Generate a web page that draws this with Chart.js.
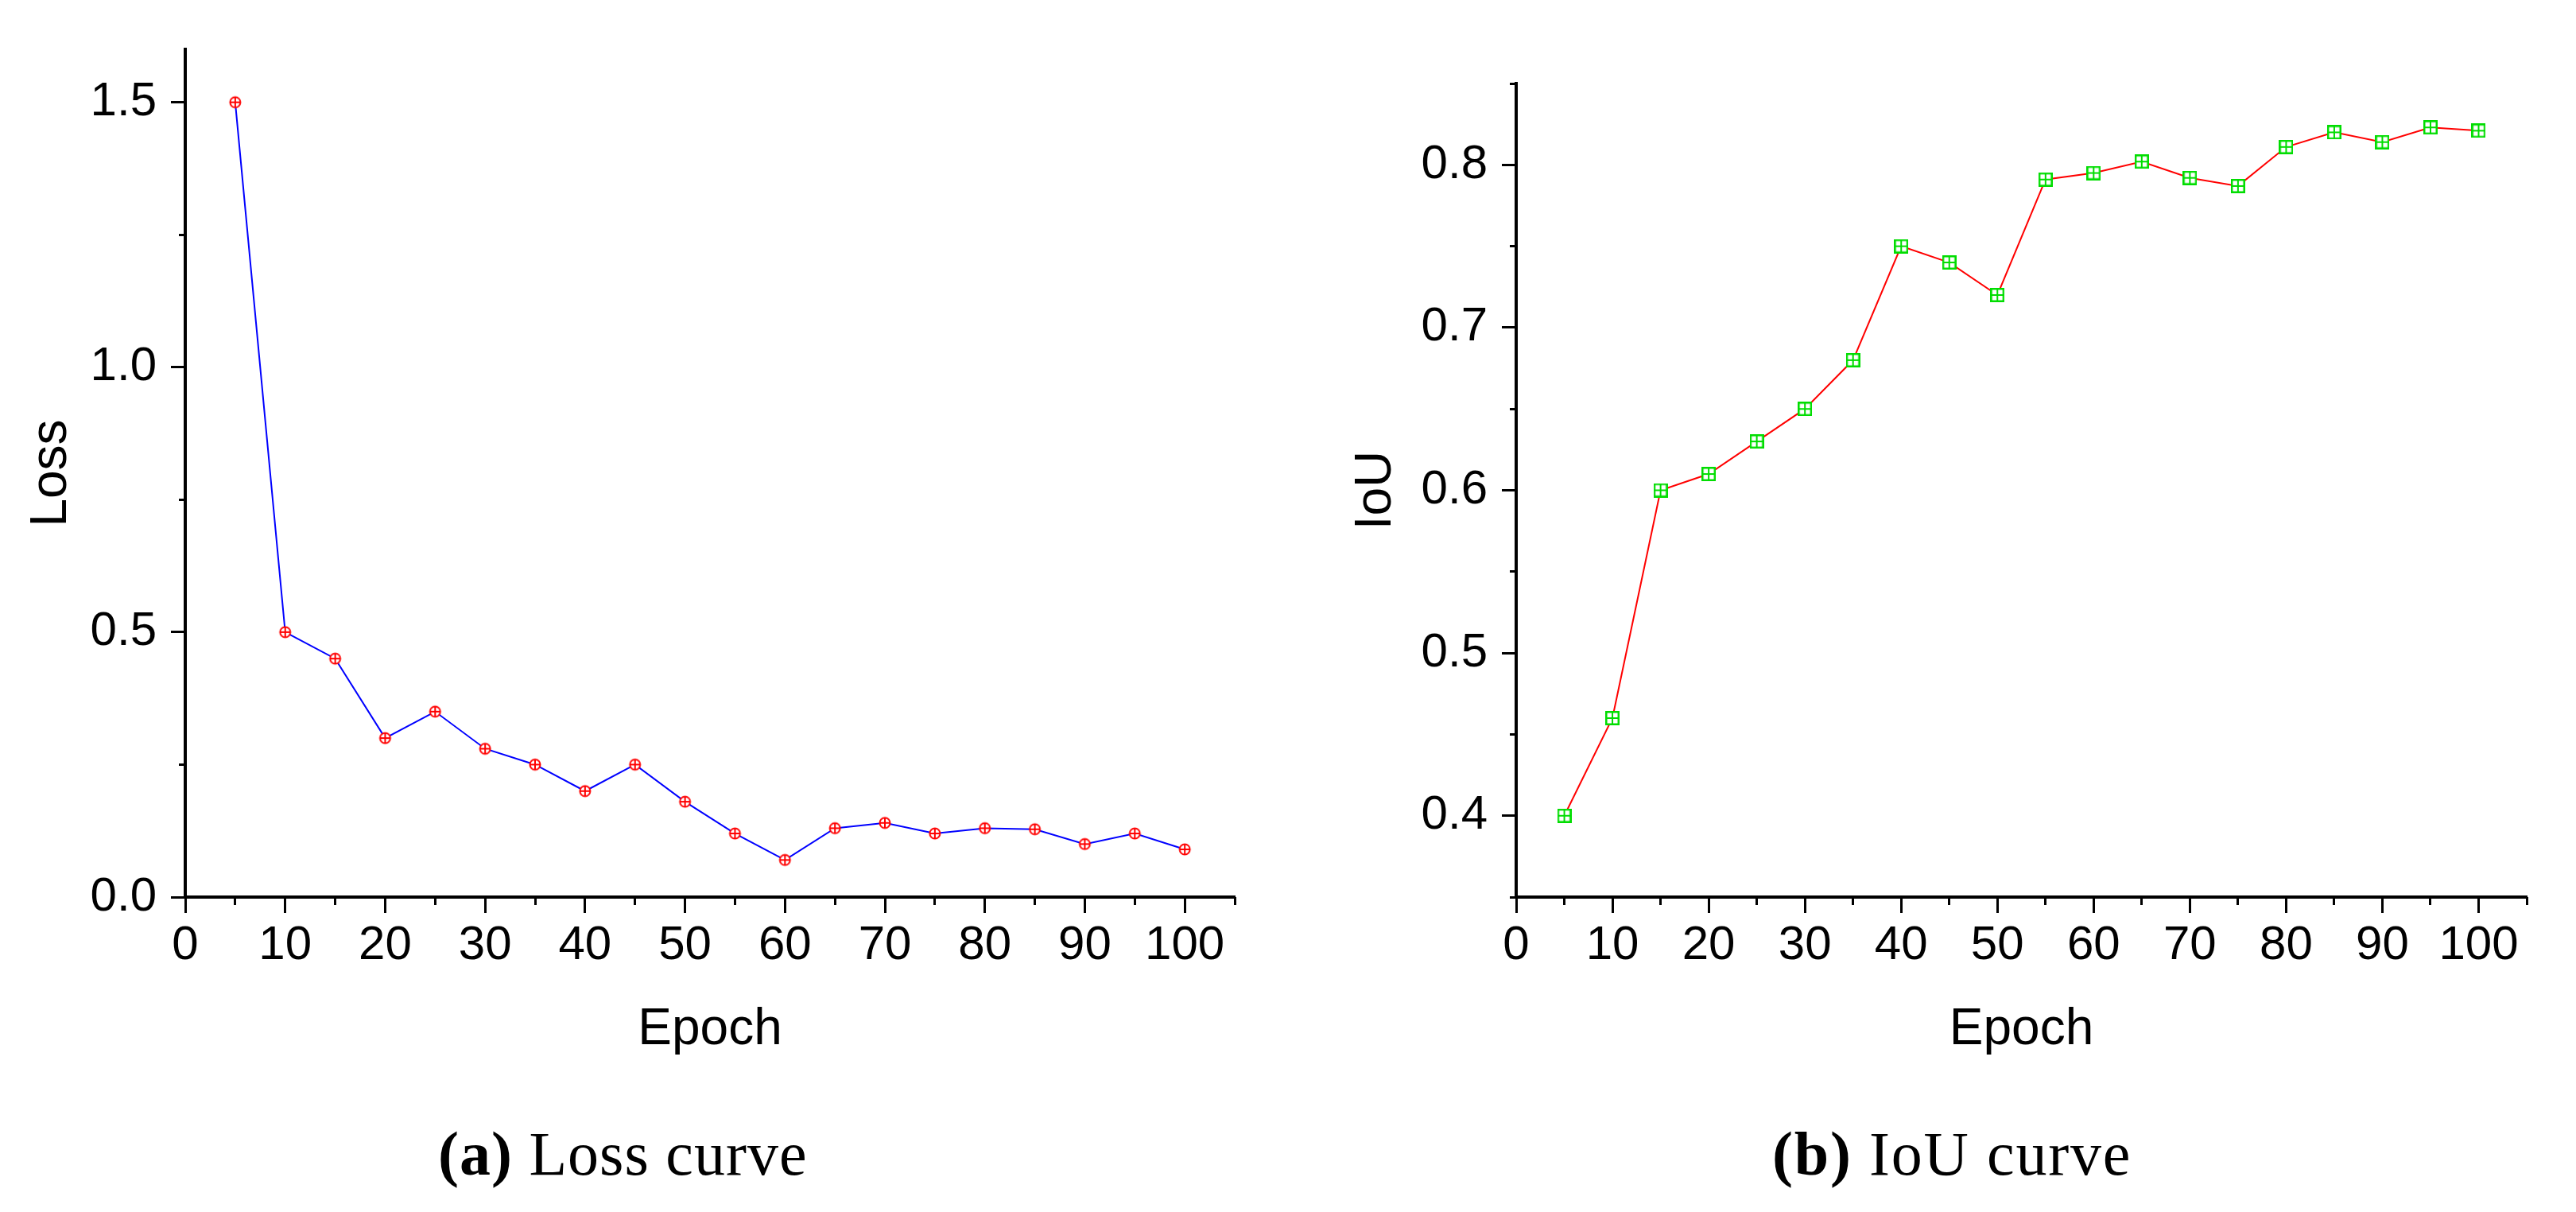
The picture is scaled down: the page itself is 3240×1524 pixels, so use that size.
<!DOCTYPE html>
<html><head><meta charset="utf-8">
<script src="https://cdn.jsdelivr.net/npm/chart.js@4.4.0/dist/chart.umd.min.js"></script>
<style>
html,body{margin:0;padding:0;background:#fff;}
body{width:3240px;height:1524px;position:relative;overflow:hidden;}
canvas{position:absolute;top:0;}
#cA{left:0;} #cB{left:1620px;}
.cap{position:absolute;top:1412px;font-family:'Liberation Serif','Times New Roman',serif;font-size:78px;line-height:78px;letter-spacing:1px;white-space:nowrap;color:#000;}
</style></head><body>
<canvas id="cA" width="1620" height="1400"></canvas>
<canvas id="cB" width="1620" height="1400"></canvas>
<div class="cap" style="left:551px"><b>(a)</b> Loss curve</div>
<div class="cap" style="left:2229px;letter-spacing:1.8px"><b>(b)</b> IoU curve</div>
<script>
// ---- data ----
const epochs = [5,10,15,20,25,30,35,40,45,50,55,60,65,70,75,80,85,90,95,100];
const lossValues = [1.5,0.5,0.45,0.3,0.35,0.28,0.25,0.2,0.25,0.18,0.12,0.07,0.13,0.14,0.12,0.13,0.128,0.1,0.12,0.09];
const iouValues = [0.4,0.46,0.6,0.61,0.63,0.65,0.68,0.75,0.74,0.72,0.791,0.795,0.802,0.792,0.787,0.811,0.82,0.814,0.823,0.821];
const xMajorTicks = [0,10,20,30,40,50,60,70,80,90,100];
const xMinorTicks = [5,15,25,35,45,55,65,75,85,95,105];
const lossMajorTicks = [0,0.5,1.0,1.5];
const lossMinorTicks = [0.25,0.75,1.25];
const iouMajorTicks = [0.4,0.5,0.6,0.7,0.8];
const iouMinorTicks = [0.35,0.45,0.55,0.65,0.75,0.85];
const xTitle = 'Epoch';
const lossTitle = 'Loss';
const iouTitle = 'IoU';

Chart.defaults.font.family = "'Liberation Sans', Arial, sans-serif";
Chart.defaults.color = '#000';

function circleMarker(color){
  const c=document.createElement('canvas'); c.width=c.height=18;
  const g=c.getContext('2d');
  g.fillStyle='#fff'; g.strokeStyle=color; g.lineWidth=2;
  g.beginPath(); g.arc(9,9,6.5,0,2*Math.PI); g.fill(); g.stroke();
  g.beginPath(); g.moveTo(2.5,9); g.lineTo(15.5,9); g.moveTo(9,2.5); g.lineTo(9,15.5); g.stroke();
  return c;
}
function squareMarker(color){
  const c=document.createElement('canvas'); c.width=c.height=18;
  const g=c.getContext('2d');
  g.fillStyle='#fff'; g.strokeStyle=color; g.lineWidth=2.5;
  g.fillRect(1.25,1.25,15.5,15.5); g.strokeRect(1.25,1.25,15.5,15.5);
  g.lineWidth=2;
  g.beginPath(); g.moveTo(1,9); g.lineTo(17,9); g.moveTo(9,1); g.lineTo(9,17); g.stroke();
  return c;
}
const setTicks = arr => scale => { scale.ticks = arr.map(v => ({value: v})); };

function makeChart(id, opts){
  const tickGrid = len => ({display:true, drawOnChartArea:false, drawTicks:true, tickLength:len, tickWidth:3, tickColor:'#000', color:'#000'});
  return new Chart(document.getElementById(id), {
    type:'line',
    data:{datasets:[{
      data: epochs.map((e,i)=>({x:e, y:opts.values[i]})),
      borderColor: opts.lineColor, borderWidth: 2, tension: 0,
      pointStyle: opts.marker, pointRadius: 9, fill:false
    }]},
    options:{
      responsive:false, animation:false, devicePixelRatio:1,
      layout:{padding:{top:opts.top, left:0, right:opts.right, bottom:0}},
      plugins:{legend:{display:false}, tooltip:{enabled:false}},
      scales:{
        x:{type:'linear', position:'bottom', weight:1, min:0, max:105,
           afterBuildTicks: setTicks(xMajorTicks),
           afterFit: s => { s.height = 1400 - 1128; },
           grid: tickGrid(20),
           border:{display:true, color:'#000', width:4},
           ticks:{autoSkip:false, maxRotation:0, padding:5, font:{size:60}, callback: v => String(v)},
           title:{display:true, text:xTitle, font:{size:64}, padding:{top:0, bottom:66}}},
        xm:{type:'linear', position:'bottom', weight:0, min:0, max:105,
           afterBuildTicks: setTicks(xMinorTicks),
           afterFit: s => { s.height = 0; },
           grid: tickGrid(10), border:{display:false}, ticks:{display:false}},
        y:{type:'linear', position:'left', weight:1, min:opts.ymin, max:opts.ymax,
           afterBuildTicks: setTicks(opts.major),
           afterFit: s => { s.width = opts.axisX; },
           grid: tickGrid(18),
           border:{display:true, color:'#000', width:4},
           ticks:{padding:18, font:{size:60}, callback: v => Number(v).toFixed(1)},
           title:{display:true, text:opts.title, font:{size:64}, padding:{top:opts.titlePad, bottom:0}}},
        ym:{type:'linear', position:'left', weight:0, min:opts.ymin, max:opts.ymax,
           afterBuildTicks: setTicks(opts.minor),
           afterFit: s => { s.width = 0; },
           grid: tickGrid(8), border:{display:false}, ticks:{display:false}}
      }
    }
  });
}

makeChart('cA', {values:lossValues, lineColor:'#0000ff', marker:circleMarker('#ff0000'),
  top:62, right:67, ymin:0, ymax:1.6, major:lossMajorTicks, minor:lossMinorTicks,
  axisX:233, title:lossTitle, titlePad:27});
makeChart('cB', {values:iouValues, lineColor:'#ff0000', marker:squareMarker('#00dd00'),
  top:105, right:62, ymin:0.35, ymax:0.85, major:iouMajorTicks, minor:iouMinorTicks,
  axisX:287, title:iouTitle, titlePad:73});
</script>
</body></html>
